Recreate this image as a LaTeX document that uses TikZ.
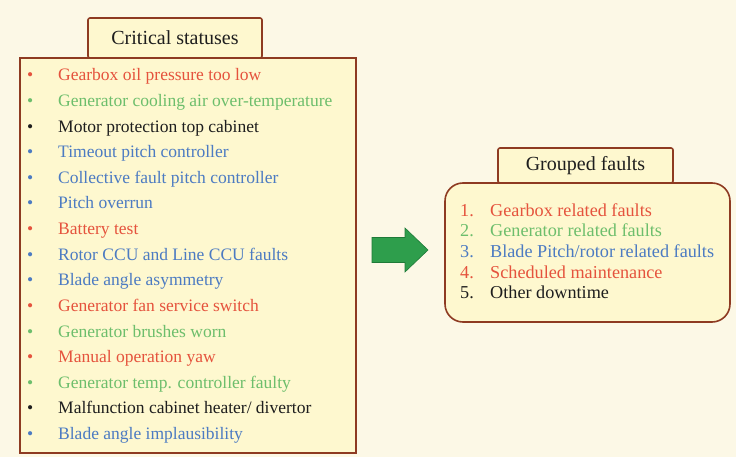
\documentclass[tikz,border=0pt]{standalone}
\usepackage{fontspec}
\setmainfont{Liberation Serif}
\usepackage{xcolor}
\usepackage{tikz}
\usetikzlibrary{arrows.meta,positioning,calc}
\definecolor{Paper}{HTML}{FCF8E6}
\definecolor{BoxFill}{HTML}{FEF8CF}
\definecolor{Brown}{HTML}{8E3B22}
\definecolor{FRed}{HTML}{E5533D}
\definecolor{FGreen}{HTML}{6DBE6C}
\definecolor{FBlue}{HTML}{4C7BC2}
\definecolor{FBlack}{HTML}{1E1E1E}
\definecolor{ArrGreen}{HTML}{2E9E4C}
\definecolor{ArrEdge}{HTML}{1E7A38}

\begin{document}
\begin{tikzpicture}[x=1pt,y=-1pt,
  box/.style={draw=Brown,fill=BoxFill,line width=1.6pt,inner sep=0pt},
  tab/.style={box,rounded corners=2pt,font=\fontsize{20}{22}\selectfont,text=FBlack},
  item/.style={anchor=base west,inner sep=0pt,font=\fontsize{17.5}{20}\selectfont},
  bul/.style={item},
  num/.style={item,font=\fontsize{18.2}{20}\selectfont}]
\fill[Paper] (0,0) rectangle (736,457);
\useasboundingbox (0,0) rectangle (736,457);
% left list
\node[box,minimum width=336pt,minimum height=395pt] (crit) at (188,255.5) {};
\node[tab,minimum width=174pt,minimum height=40pt] (crittab) at (175,38) {Critical statuses};
\node[bul,text=FRed] (s1) at (27,81) {\makebox[31pt][l]{\textbullet}Gearbox oil pressure too low};
\node[bul,text=FGreen] (s2) at (27,106.6) {\makebox[31pt][l]{\textbullet}Generator cooling air over-temperature};
\node[bul,text=FBlack] (s3) at (27,132.2) {\makebox[31pt][l]{\textbullet}Motor protection top cabinet};
\node[bul,text=FBlue] (s4) at (27,157.8) {\makebox[31pt][l]{\textbullet}Timeout pitch controller};
\node[bul,text=FBlue] (s5) at (27,183.4) {\makebox[31pt][l]{\textbullet}Collective fault pitch controller};
\node[bul,text=FBlue] (s6) at (27,209) {\makebox[31pt][l]{\textbullet}Pitch overrun};
\node[bul,text=FRed] (s7) at (27,234.6) {\makebox[31pt][l]{\textbullet}Battery test};
\node[bul,text=FBlue] (s8) at (27,260.2) {\makebox[31pt][l]{\textbullet}Rotor CCU and Line CCU faults};
\node[bul,text=FBlue] (s9) at (27,285.8) {\makebox[31pt][l]{\textbullet}Blade angle asymmetry};
\node[bul,text=FRed] (s10) at (27,311.4) {\makebox[31pt][l]{\textbullet}Generator fan service switch};
\node[bul,text=FGreen] (s11) at (27,337) {\makebox[31pt][l]{\textbullet}Generator brushes worn};
\node[bul,text=FRed] (s12) at (27,362.6) {\makebox[31pt][l]{\textbullet}Manual operation yaw};
\node[bul,text=FGreen] (s13) at (27,388.2) {\makebox[31pt][l]{\textbullet}Generator temp. controller faulty};
\node[bul,text=FBlack] (s14) at (27,413.8) {\makebox[31pt][l]{\textbullet}Malfunction cabinet heater/ divertor};
\node[bul,text=FBlue] (s15) at (27,439.4) {\makebox[31pt][l]{\textbullet}Blade angle implausibility};
% arrow
\draw[ArrEdge,fill=ArrGreen,line width=0.6pt] (372,237.5) -- (405,237.5) -- (405,228) -- (428,250) -- (405,272) -- (405,262.5) -- (372,262.5) -- cycle;
% right list
\node[box,rounded corners=18pt,minimum width=285pt,minimum height=139pt] (grp) at (587.5,252.5) {};
\node[tab,minimum width=175pt,minimum height=35pt] (grptab) at (585.5,165.5) {Grouped faults};
\node[num,text=FRed] (g1) at (460,216) {\makebox[30pt][l]{1.}Gearbox related faults};
\node[num,text=FGreen] (g2) at (460,236.7) {\makebox[30pt][l]{2.}Generator related faults};
\node[num,text=FBlue] (g3) at (460,257.4) {\makebox[30pt][l]{3.}Blade Pitch/rotor related faults};
\node[num,text=FRed] (g4) at (460,278.1) {\makebox[30pt][l]{4.}Scheduled maintenance};
\node[num,text=FBlack] (g5) at (460,298.8) {\makebox[30pt][l]{5.}Other downtime};
\end{tikzpicture}
\end{document}
